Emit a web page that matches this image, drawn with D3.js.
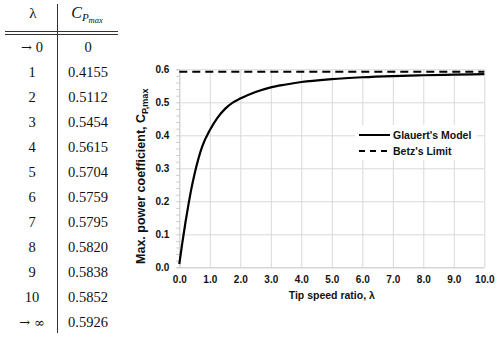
<!DOCTYPE html>
<html>
<head>
<meta charset="utf-8">
<script src="https://d3js.org/d3.v7.min.js"></script>
<style>
  body { margin: 0; background: #fff; }
  .tbl text { font-family: "Liberation Serif", "DejaVu Serif", serif; font-size: 14.5px; fill: #111; }
  .tbl .sym { font-family: "DejaVu Serif", serif; font-size: 13px; }
  .chart text { font-family: "Liberation Sans", Arial, sans-serif; font-weight: bold; fill: #111; }
</style>
</head>
<body>
<div id="fig"></div>
<script>
// table values
var tableLambda = ["\u2192 0", "1", "2", "3", "4", "5", "6", "7", "8", "9", "10", "\u2192 \u221E"];
var tableCp = ["0", "0.4155", "0.5112", "0.5454", "0.5615", "0.5704", "0.5759", "0.5795", "0.5820", "0.5838", "0.5852", "0.5926"];

// Glauert's model curve (integers from the table)
var lambdas = [0, 0.1, 0.2, 0.3, 0.4, 0.5, 0.75, 1, 1.25, 1.5, 1.75, 2, 2.5, 3, 3.5, 4, 5, 6, 7, 8, 9, 10];
var cpGlauert = [0.01, 0.075, 0.135, 0.19, 0.24, 0.283, 0.366, 0.4155, 0.453, 0.480, 0.499, 0.5112, 0.531, 0.5454, 0.554, 0.5615, 0.5704, 0.5759, 0.5795, 0.5820, 0.5838, 0.5852];
var betz = 0.5926;

var xTicks = [0, 1, 2, 3, 4, 5, 6, 7, 8, 9, 10];
var yTicks = [0, 0.1, 0.2, 0.3, 0.4, 0.5, 0.6];
var legendNames = ["Glauert's Model", "Betz's Limit"];

var W = 500, H = 339;
var svg = d3.select("#fig").append("svg").attr("width", W).attr("height", H);

// ---- table ----
var tbl = svg.append("g").attr("class", "tbl");
var rowY = d3.scalePoint().domain(d3.range(tableLambda.length)).range([46.7, 321.7]);

tbl.append("line").attr("x1", 57.5).attr("x2", 57.5).attr("y1", 4).attr("y2", 333)
  .attr("stroke", "#333").attr("stroke-width", 1);
tbl.append("line").attr("x1", 5).attr("x2", 118).attr("y1", 31.5).attr("y2", 31.5)
  .attr("stroke", "#333").attr("stroke-width", 1);
tbl.append("line").attr("x1", 5).attr("x2", 118).attr("y1", 34.5).attr("y2", 34.5)
  .attr("stroke", "#333").attr("stroke-width", 1);

tbl.append("text").attr("x", 33).attr("y", 18).attr("text-anchor", "middle").style("font-size", "15px").text("\u03BB");
var hdr = tbl.append("text").attr("x", 87).attr("y", 18).attr("text-anchor", "middle");
hdr.append("tspan").style("font-style", "italic").style("font-size", "16px").text("C");
hdr.append("tspan").style("font-style", "italic").style("font-size", "11px").attr("dy", 3).text("P");
hdr.append("tspan").style("font-style", "italic").style("font-size", "8.5px").attr("dy", 2).text("max");

tbl.selectAll(".lam").data(tableLambda).enter().append("text")
  .attr("x", 32).attr("y", function(d, i) { return rowY(i) + 5; })
  .attr("text-anchor", "middle")
  .each(function(d) {
    var t = d3.select(this);
    if (d.charAt(0) === "\u2192") {
      t.append("tspan").attr("class", "sym").text("\u2192");
      var rest = d.slice(2);
      t.append("tspan").attr("class", rest === "\u221E" ? "sym" : null).attr("dx", 4).text(rest);
    } else {
      t.text(d);
    }
  });
tbl.selectAll(".cp").data(tableCp).enter().append("text")
  .attr("x", 88).attr("y", function(d, i) { return rowY(i) + 5; })
  .attr("text-anchor", "middle").text(function(d) { return d; });

// ---- chart ----
var pl = 179.3, pr = 484.3, pt = 69.3, pb = 267.3;
var g = svg.append("g").attr("class", "chart");
var xs = d3.scaleLinear().domain([0, 10]).range([pl, pr]);
var ys = d3.scaleLinear().domain([0, 0.6]).range([pb, pt]);

// grid
g.append("g").attr("transform", "translate(0," + pb + ")")
  .call(d3.axisBottom(xs).tickValues(xTicks).tickSize(-(pb - pt)).tickFormat(""))
  .call(function(a) { a.select(".domain").remove(); a.selectAll("line").attr("stroke", "#d9d9d9"); });
g.append("g").attr("transform", "translate(" + pl + ",0)")
  .call(d3.axisLeft(ys).tickValues(yTicks).tickSize(-(pr - pl)).tickFormat(""))
  .call(function(a) { a.select(".domain").remove(); a.selectAll("line").attr("stroke", "#d9d9d9"); });

// minor ticks on y
g.append("g").attr("transform", "translate(" + pl + ",0)")
  .call(d3.axisLeft(ys).tickValues(d3.range(0, 0.601, 0.02)).tickSize(3).tickFormat(""))
  .call(function(a) { a.select(".domain").attr("stroke", "#d0d0d0"); a.selectAll("line").attr("stroke", "#c8c8c8"); });

// tick labels
g.append("g").attr("transform", "translate(" + pl + ",0)")
  .call(d3.axisLeft(ys).tickValues(yTicks).tickSize(0).tickPadding(10).tickFormat(d3.format(".1f")))
  .call(function(a) { a.select(".domain").remove(); a.selectAll("text").style("font-size", "10px").attr("fill", "#111"); });
g.append("g").attr("transform", "translate(0," + pb + ")")
  .call(d3.axisBottom(xs).tickValues(xTicks).tickSize(0).tickPadding(9).tickFormat(d3.format(".1f")))
  .call(function(a) { a.select(".domain").attr("stroke", "#d0d0d0"); a.selectAll("text").style("font-size", "10px").attr("fill", "#111"); });

// axis titles
g.append("text").attr("x", (pl + pr) / 2).attr("y", 299).attr("text-anchor", "middle")
  .style("font-size", "10.5px").text("Tip speed ratio, \u03BB");
var yl = g.append("text").attr("transform", "translate(145," + ((pt + pb) / 2 + 8) + ") rotate(-90)")
  .attr("text-anchor", "middle").style("font-size", "12.5px");
yl.append("tspan").text("Max. power coefficient, C");
yl.append("tspan").attr("dy", 3).style("font-size", "9px").text("P,max");

// Betz line
g.append("line").attr("x1", xs(0)).attr("x2", xs(10)).attr("y1", ys(betz)).attr("y2", ys(betz))
  .attr("stroke", "#000").attr("stroke-width", 2.2).attr("stroke-dasharray", "8,5");

// Glauert curve
var pts = lambdas.map(function(d, i) { return [d, cpGlauert[i]]; });
var line = d3.line().x(function(d) { return xs(d[0]); }).y(function(d) { return ys(d[1]); })
  .curve(d3.curveMonotoneX);
g.append("path").datum(pts).attr("d", line).attr("fill", "none")
  .attr("stroke", "#000").attr("stroke-width", 2.2);

// legend
g.append("rect").attr("x", 355).attr("y", 125).attr("width", 122).attr("height", 35).attr("fill", "#fff");
var leg = g.selectAll(".leg").data(legendNames).enter().append("g")
  .attr("transform", function(d, i) { return "translate(359," + (135 + i * 16) + ")"; });
leg.append("line").attr("x1", 0).attr("x2", 31).attr("y1", 0).attr("y2", 0)
  .attr("stroke", "#000").attr("stroke-width", 2)
  .attr("stroke-dasharray", function(d, i) { return i ? "6,5" : null; });
leg.append("text").attr("x", 34).attr("y", 3.8).style("font-size", "10.5px").text(function(d) { return d; });
</script>
</body>
</html>
